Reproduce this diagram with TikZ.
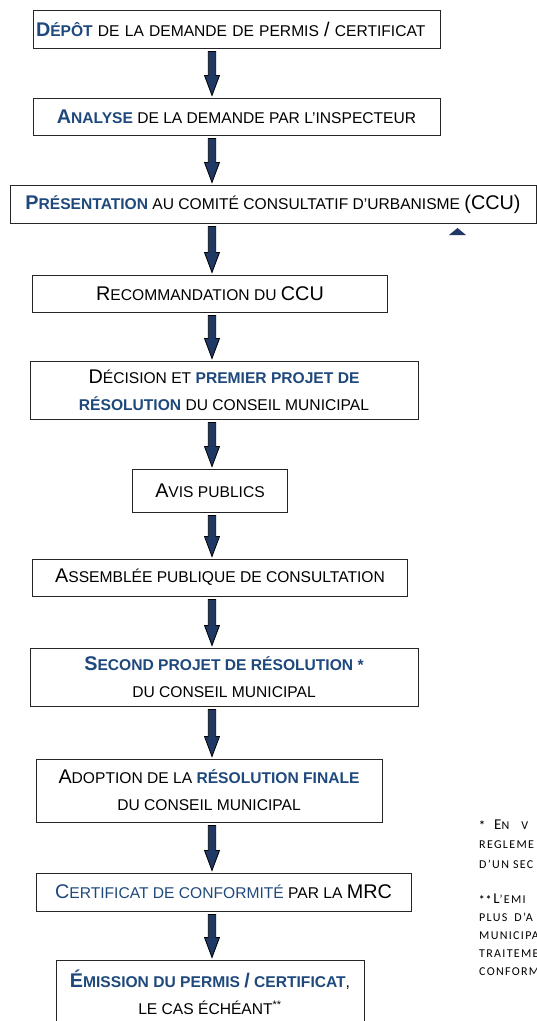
\documentclass[tikz,border=0pt]{standalone}
\usepackage{fontspec}
\setmainfont{Liberation Sans}
\newfontfamily\notefont[LetterSpace=11]{Carlito}
\usetikzlibrary{calc}
\definecolor{stepblue}{HTML}{1F497D}
\definecolor{arrowblue}{HTML}{1F3864}
\newcommand\ini[1]{{\fontsize{19.8pt}{22pt}\selectfont #1}}
\newcommand\fini[1]{{\fontsize{15pt}{16pt}\selectfont #1}}
\newcommand\hl[1]{{\color{stepblue}\bfseries #1}}

\begin{document}
\begin{tikzpicture}[x=1pt,y=-1pt]
\tikzstyle{every node}=[font=\fontsize{15.6pt}{27pt}\selectfont]
\tikzstyle{stage}=[draw=black!85, line width=1pt, inner sep=0pt, align=center]
\tikzstyle{note}=[anchor=base west, inner sep=0pt, font=\notefont\fontsize{12pt}{14pt}\selectfont]
\tikzstyle{flow}=[draw=black, fill=arrowblue, line width=0.8pt,
  to path={let \p1=(\tikztostart), \p2=(\tikztotarget) in
    (\x1-3.7pt,\y1-3pt) -- (\x1+3.7pt,\y1-3pt) -- (\x1+3.7pt,\y2+22pt) -- (\x1+7.5pt,\y2+22pt)
    -- (\x1,\y2+2pt) -- (\x1-7.5pt,\y2+22pt) -- (\x1-3.7pt,\y2+22pt) -- cycle}]

\useasboundingbox (0,0) rectangle (537,1021);
\clip (0,0) rectangle (537,1021);
\fill[white] (0,0) rectangle (537,1021);

\coordinate (spine) at (212,0);

\node[stage, minimum width=407pt, minimum height=38pt, text width=401pt, align=left, inner xsep=3pt] (depot) at (236.5,29)
  {\hl{\ini{D}ÉPÔT} DE LA DEMANDE DE PERMIS \ini{/} CERTIFICAT};
\node[stage, minimum width=407pt, minimum height=37pt] (analyse) at (236.5,116.5)
  {\hl{\ini{A}NALYSE} DE LA DEMANDE PAR L’INSPECTEUR};
\node[stage, minimum width=526pt, minimum height=38pt] (presentation) at (273,204)
  {\hl{\ini{P}RÉSENTATION} AU COMITÉ CONSULTATIF D’URBANISME \ini{(CCU)}};
\node[stage, minimum width=355pt, minimum height=37pt] (recommandation) at (210,293.5)
  {\ini{R}ECOMMANDATION DU \ini{CCU}};
\node[stage, minimum width=388pt, minimum height=58pt] (decision) at (224,390)
  {\ini{D}ÉCISION ET \hl{PREMIER PROJET DE}\\\hl{RÉSOLUTION} DU CONSEIL MUNICIPAL};
\node[stage, minimum width=155pt, minimum height=43pt] (avis) at (210,490.5)
  {\ini{A}VIS PUBLICS};
\node[stage, minimum width=375pt, minimum height=37pt] (assemblee) at (220,577.5)
  {\ini{A}SSEMBLÉE PUBLIQUE DE CONSULTATION};
\node[stage, minimum width=388pt, minimum height=58pt] (second) at (224,677)
  {\hl{\ini{S}ECOND PROJET DE RÉSOLUTION *}\\DU CONSEIL MUNICIPAL};
\node[stage, minimum width=346pt, minimum height=63pt] (adoption) at (209,790.5)
  {\ini{A}DOPTION DE LA \hl{RÉSOLUTION FINALE}\\DU CONSEIL MUNICIPAL};
\node[stage, minimum width=375pt, minimum height=38pt] (conformite) at (223.5,892)
  {{\color{stepblue}\ini{C}ERTIFICAT DE CONFORMITÉ} PAR LA \ini{MRC}};
\node[stage, minimum width=308pt, minimum height=64pt] (emission) at (210,992)
  {\hl{\ini{É}MISSION DU PERMIS \ini{/} CERTIFICAT}, \\LE CAS ÉCHÉANT\textsuperscript{**}};

\draw[flow] (depot.south -| spine) to (analyse.north -| spine);
\draw[flow] (analyse.south -| spine) to (presentation.north -| spine);
\draw[flow] (presentation.south -| spine) to (recommandation.north -| spine);
\draw[flow] (recommandation.south -| spine) to (decision.north -| spine);
\draw[flow] (decision.south -| spine) to (avis.north -| spine);
\draw[flow] (avis.south -| spine) to (assemblee.north -| spine);
\draw[flow] (assemblee.south -| spine) to (second.north -| spine);
\draw[flow] (second.south -| spine) to (adoption.north -| spine);
\draw[flow] (adoption.south -| spine) to (conformite.north -| spine);
\draw[flow] (conformite.south -| spine) to (emission.north -| spine);

\fill[arrowblue] (449,235) -- (457.5,228) -- (466,235) -- cycle;

\node[note] (note1) at (479,829) {{\fontsize{12pt}{12pt}\selectfont\bfseries *}\hspace{9pt}\fini{E}N\hspace{12pt}V};
\node[note] (note2) at (479,848) {REGLEME};
\node[note] (note3) at (479,868) {D’UN SEC};
\node[note] (note4) at (479,903) {{\fontsize{11pt}{11pt}\selectfont\bfseries **}\hspace{2pt}\fini{L}’EMI};
\node[note] (note5) at (479,921) {PLUS\hspace{7pt}D’A};
\node[note] (note6) at (479,939) {MUNICIPA};
\node[note] (note7) at (479,957) {TRAITEME};
\node[note] (note8) at (479,975) {CONFORM};
\end{tikzpicture}
\end{document}
